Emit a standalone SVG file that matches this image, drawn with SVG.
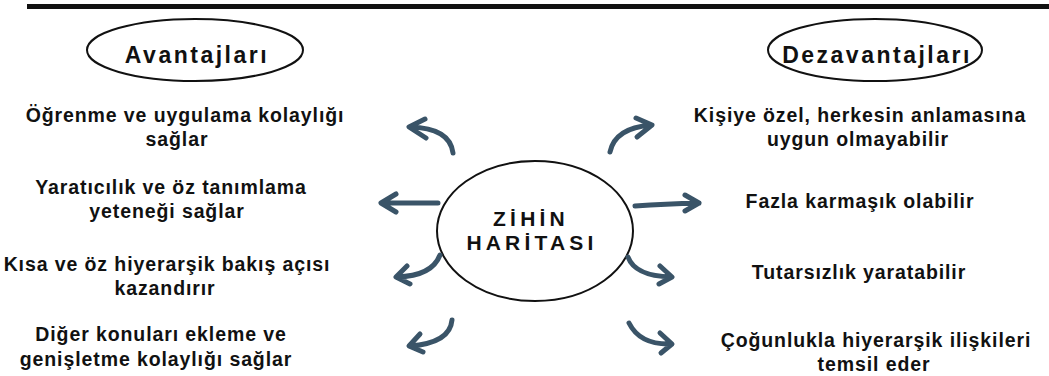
<svg xmlns="http://www.w3.org/2000/svg" width="1049" height="376" viewBox="0 0 1049 376">
  <style>
    .t { font-family: "Liberation Sans", Arial, sans-serif; font-weight: 700; font-size: 19.5px; letter-spacing: 0.9px; fill: #111; text-anchor: middle; }
    .h { font-family: "Liberation Sans", Arial, sans-serif; font-weight: 700; font-size: 23px; letter-spacing: 2.5px; fill: #111; text-anchor: middle; }
    .c { font-family: "Liberation Sans", Arial, sans-serif; font-weight: 700; font-size: 21px; fill: #111; text-anchor: middle; letter-spacing: 4.2px; }
    .ol { fill: #fff; stroke: #111; stroke-width: 2; }
    .arr { fill: none; stroke: #3a5468; stroke-width: 5; stroke-linecap: round; stroke-linejoin: round; }
  </style>
  <rect x="0" y="0" width="1049" height="376" fill="#fff"/>
  <rect x="27" y="4" width="1022" height="5" fill="#111"/>

  <g id="avantajlari">
    <ellipse class="ol" cx="195" cy="50" rx="108" ry="31"/>
    <text class="h" x="197" y="63">Avantajları</text>
  </g>
  <g id="dezavantajlari">
    <ellipse class="ol" cx="875" cy="50" rx="107" ry="31"/>
    <text class="h" x="877" y="63">Dezavantajları</text>
  </g>
  <g id="zihin-haritasi">
    <ellipse class="ol" cx="535" cy="231" rx="98" ry="70"/>
    <text class="c"><tspan x="531" y="226">ZİHİN</tspan><tspan x="532" y="250">HARİTASI</tspan></text>
  </g>

  <g id="a1"><text class="t"><tspan x="185" y="122">Öğrenme ve uygulama kolaylığı</tspan><tspan x="177" y="146">sağlar</tspan></text></g>
  <g id="a2"><text class="t"><tspan x="171" y="194">Yaratıcılık ve öz tanımlama</tspan><tspan x="167" y="218">yeteneği sağlar</tspan></text></g>
  <g id="a3"><text class="t"><tspan x="167" y="271">Kısa ve öz hiyerarşik bakış açısı</tspan><tspan x="165" y="295">kazandırır</tspan></text></g>
  <g id="a4"><text class="t"><tspan x="161" y="341">Diğer konuları ekleme ve</tspan><tspan x="156" y="366">genişletme kolaylığı sağlar</tspan></text></g>

  <g id="d1"><text class="t"><tspan x="860" y="122">Kişiye özel, herkesin anlamasına</tspan><tspan x="858" y="146">uygun olmayabilir</tspan></text></g>
  <g id="d2"><text class="t" x="860" y="208">Fazla karmaşık olabilir</text></g>
  <g id="d3"><text class="t" x="859" y="279">Tutarsızlık yaratabilir</text></g>
  <g id="d4"><text class="t"><tspan x="876" y="347">Çoğunlukla hiyerarşik ilişkileri</tspan><tspan x="874" y="371">temsil eder</tspan></text></g>

  <g id="connectors">
    <path class="arr" d="M453,153 Q450,128 410,127 M425,119 L409,127 L426,138"/>
    <path class="arr" d="M438,203 L382,203 M396,194 L381,203 L396,212"/>
    <path class="arr" d="M440,255 Q432,276 397,277 M407,266 L396,277 L410,284"/>
    <path class="arr" d="M452,320 Q450,343 410,346 M420,334 L409,346 L423,352"/>
    <path class="arr" d="M610,152 Q615,128 651,125 M636,118 L652,125 L637,137"/>
    <path class="arr" d="M635,206 Q665,204 699,203 M685,195 L699,203 L685,211"/>
    <path class="arr" d="M628,257 Q635,276 671,277 M660,266 L672,277 L659,284"/>
    <path class="arr" d="M629,323 Q640,345 671,344 M660,333 L672,344 L661,353"/>
  </g>
</svg>
